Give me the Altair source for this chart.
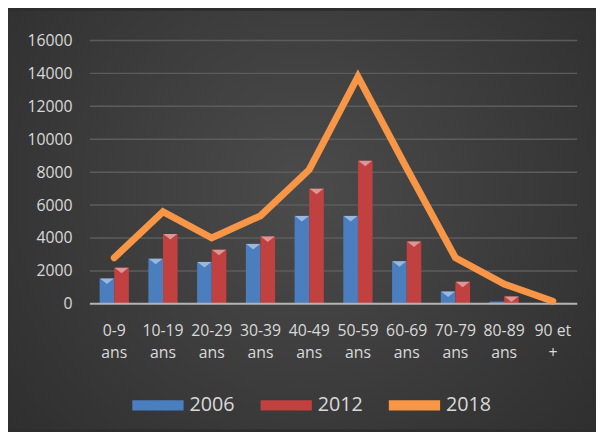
import altair as alt
import pandas as pd

categories = ["0-9 ans", "10-19 ans", "20-29 ans", "30-39 ans", "40-49 ans",
              "50-59 ans", "60-69 ans", "70-79 ans", "80-89 ans", "90 et +"]
v2006 = [1550, 2750, 2550, 3650, 5350, 5350, 2600, 760, 140, 20]
v2012 = [2200, 4250, 3300, 4100, 7000, 8700, 3800, 1350, 460, 60]
v2018 = [2800, 5600, 4000, 5350, 8150, 13800, 8250, 2800, 1200, 160]
series = ["2006", "2012", "2018"]
colors = ["#4a7ebf", "#c0413f", "#f79646"]
y_ticks = [0, 2000, 4000, 6000, 8000, 10000, 12000, 14000, 16000]

bars = pd.DataFrame(
    [{"cat": c, "serie": "2006", "val": v} for c, v in zip(categories, v2006)]
    + [{"cat": c, "serie": "2012", "val": v} for c, v in zip(categories, v2012)]
)
line = pd.DataFrame({"cat": categories, "serie": "2018", "val": v2018})
grid = pd.DataFrame({"t": y_ticks[1:]})
zero = pd.DataFrame({"t": [0]})

W, H = 494, 267
PL, PT, PR, PB = 83, 30, 19, 127
FONT = "Open Sans"

xscale = alt.Scale(domain=categories, paddingInner=0.4, paddingOuter=0.2)
yscale = alt.Scale(domain=[0, 16000])
cscale = alt.Scale(domain=series, range=colors)

xaxis = alt.Axis(title=None, labelAngle=0, domain=False, ticks=False, grid=False,
                 labelFont=FONT, labelFontSize=16, labelColor="#d9d9d9",
                 labelPadding=19, labelLineHeight=22, zindex=1, labelOverlap=False,
                 labelExpr="indexof(datum.label,'90')==0 ? ['90 et','+'] : split(datum.label,' ')")
yaxis = alt.Axis(title=None, values=y_ticks, format="d", domain=False, ticks=False,
                 grid=False, labelFont=FONT, labelFontSize=16, labelColor="#d9d9d9",
                 labelPadding=18, zindex=1, labelOverlap=False)

bg = alt.Chart(alt.Data(values=[{}])).mark_rect(
    fill={"gradient": "radial",
          "stops": [{"offset": 0, "color": "#4b4b4b"}, {"offset": 1, "color": "#2a2a2a"}],
          "x1": 0.5, "y1": 0.45, "r1": 0, "x2": 0.5, "y2": 0.45, "r2": 0.75}
).encode(x=alt.value(-PL), x2=alt.value(W + PR), y=alt.value(-PT), y2=alt.value(H + PB))

grid_l = alt.Chart(grid).mark_rule(color="#5c5c5c", strokeWidth=1.5).encode(
    y=alt.Y("t:Q", scale=yscale, axis=yaxis))

bar_l = alt.Chart(bars).mark_bar().encode(
    x=alt.X("cat:N", scale=xscale, sort=categories, axis=xaxis),
    xOffset=alt.XOffset("serie:N", sort=series[:2]),
    y=alt.Y("val:Q", scale=yscale, axis=yaxis),
    color=alt.Color("serie:N", scale=cscale,
                    legend=alt.Legend(title=None, orient="none", direction="horizontal",
                                      legendX=43, legendY=344, padding=0,
                                      symbolType="M-1,-0.2H1V0.2H-1Z", symbolSize=2704,
                                      symbolStrokeWidth=0, symbolOpacity=1,
                                      labelFont=FONT, labelFontSize=20,
                                      labelColor="#d9d9d9", labelOffset=6, columnPadding=26)),
)

tri_l = alt.Chart(bars).transform_filter("datum.val >= 300").mark_point(
    shape="M-1,-0.4L1,-0.4L0,0.4Z", size=196, filled=True, color="white", opacity=0.45,
    yOffset=3, strokeWidth=0
).encode(
    x=alt.X("cat:N", scale=xscale, sort=categories, axis=xaxis),
    xOffset=alt.XOffset("serie:N", sort=series[:2]),
    y=alt.Y("val:Q", scale=yscale, axis=yaxis),
)

zero_l = alt.Chart(zero).mark_rule(color="#b4b4b4", strokeWidth=2).encode(
    y=alt.Y("t:Q", scale=yscale, axis=yaxis))

line_l = alt.Chart(line).mark_line(strokeWidth=7, strokeCap="round", strokeJoin="miter").encode(
    x=alt.X("cat:N", scale=xscale, sort=categories, axis=xaxis),
    y=alt.Y("val:Q", scale=yscale, axis=yaxis),
    color=alt.Color("serie:N", scale=cscale),
)

chart = alt.layer(bg, grid_l, bar_l, tri_l, zero_l, line_l).properties(
    width=W, height=H,
    autosize=alt.AutoSizeParams(type="none"),
    padding={"left": PL, "top": PT, "right": PR, "bottom": PB},
    background="#2d2d2d",
).configure_view(stroke=None).configure_axis(labelOverlap=False)

chart.save("out.html", embed_options={"renderer": "svg", "actions": False})
